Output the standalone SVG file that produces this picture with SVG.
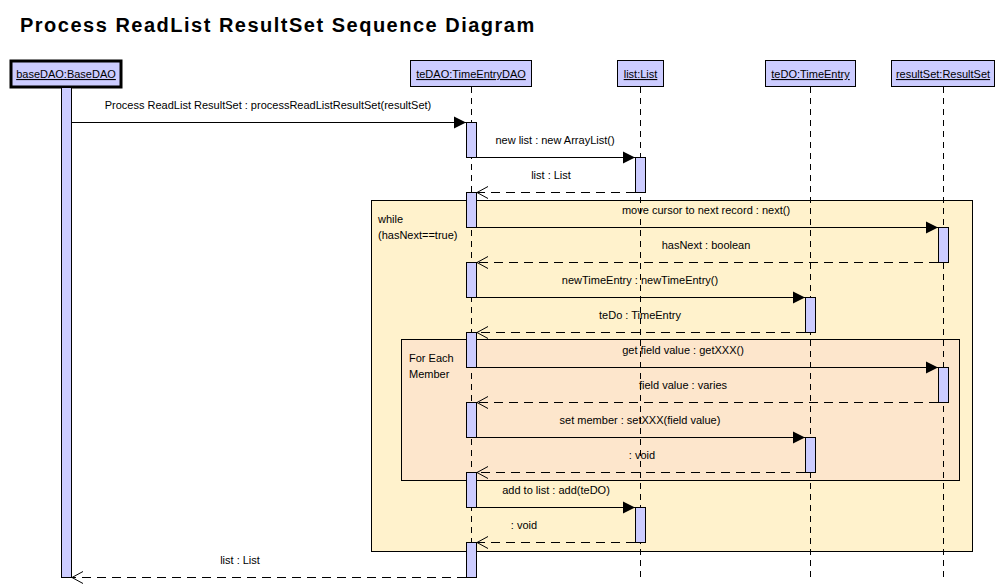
<svg xmlns="http://www.w3.org/2000/svg" width="1007" height="588" viewBox="0 0 1007 588">
<style>
text{font-family:"Liberation Sans",Arial,sans-serif;font-size:11px;fill:#000}
.title{font-size:20px;font-weight:bold;letter-spacing:1.5px}
.head{fill:#ccccff;stroke:#000;stroke-width:1}
.act{fill:#ccccff;stroke:#000;stroke-width:1}
.life{stroke:#000;stroke-width:1;stroke-dasharray:6,5;fill:none}
.msg{stroke:#000;stroke-width:1;fill:none}
.ret{stroke:#000;stroke-width:1;stroke-dasharray:9,6;fill:none}
.lbl{text-anchor:middle}
.u{text-decoration:underline;text-anchor:middle}
</style>
<defs>
<marker id="filled" markerUnits="userSpaceOnUse" markerWidth="13" markerHeight="13" refX="12" refY="6" orient="auto" overflow="visible">
<path d="M0,0 L12,6 L0,12 z" fill="#000"/>
</marker>
<marker id="open" markerUnits="userSpaceOnUse" markerWidth="13" markerHeight="13" refX="11" refY="6" orient="auto" overflow="visible">
<path d="M0,0 L11,6 L0,12" fill="none" stroke="#000" stroke-width="1"/>
</marker>
</defs>
<rect width="1007" height="588" fill="#fff"/>
<text class="title" x="20" y="32">Process ReadList ResultSet Sequence Diagram</text>

<g id="frame-while">
<rect x="371.5" y="200.5" width="601" height="351" fill="#fff2cc" stroke="#000"/>
<text x="378" y="223">while</text>
<text x="378" y="239">(hasNext==true)</text>
</g>
<g id="frame-foreach">
<rect x="401.5" y="339.5" width="558" height="141" fill="#fde6cc" stroke="#000"/>
<text x="409" y="362">For Each</text>
<text x="409" y="378">Member</text>
</g>

<g id="baseDAO">
<rect class="head" x="11" y="61" width="110" height="26" style="stroke-width:3"/>
<text class="u" x="66" y="78">baseDAO:BaseDAO</text>
<rect class="act" x="61.5" y="87.5" width="10" height="490"/>
</g>
<g id="teDAO">
<rect class="head" x="410.5" y="60.5" width="121" height="26"/>
<text class="u" x="471" y="78">teDAO:TimeEntryDAO</text>
<line class="life" x1="471.5" y1="87" x2="471.5" y2="577"/>
<rect class="act" x="466.5" y="122.5" width="10" height="35"/>
<rect class="act" x="466.5" y="192.5" width="10" height="35"/>
<rect class="act" x="466.5" y="262.5" width="10" height="35"/>
<rect class="act" x="466.5" y="332.5" width="10" height="35"/>
<rect class="act" x="466.5" y="402.5" width="10" height="35"/>
<rect class="act" x="466.5" y="472.5" width="10" height="35"/>
<rect class="act" x="466.5" y="542.5" width="10" height="35"/>
</g>
<g id="list">
<rect class="head" x="617.5" y="60.5" width="46" height="26"/>
<text class="u" x="640.5" y="78">list:List</text>
<line class="life" x1="640.5" y1="87" x2="640.5" y2="577"/>
<rect class="act" x="635.5" y="157.5" width="10" height="35"/>
<rect class="act" x="635.5" y="507.5" width="10" height="35"/>
</g>
<g id="teDO">
<rect class="head" x="765.5" y="60.5" width="90" height="26"/>
<text class="u" x="810.5" y="78">teDO:TimeEntry</text>
<line class="life" x1="810.5" y1="87" x2="810.5" y2="577"/>
<rect class="act" x="805.5" y="297.5" width="10" height="35"/>
<rect class="act" x="805.5" y="437.5" width="10" height="35"/>
</g>
<g id="resultSet">
<rect class="head" x="891.5" y="60.5" width="103" height="26"/>
<text class="u" x="943" y="78">resultSet:ResultSet</text>
<line class="life" x1="943.5" y1="87" x2="943.5" y2="577"/>
<rect class="act" x="938.5" y="227.5" width="10" height="35"/>
<rect class="act" x="938.5" y="367.5" width="10" height="35"/>
</g>

<g id="connectors">
<line class="msg" x1="72" y1="122.5" x2="466" y2="122.5" marker-end="url(#filled)"/>
<text class="lbl" x="268" y="109">Process ReadList ResultSet : processReadListResultSet(resultSet)</text>
<line class="msg" x1="477" y1="157.5" x2="635" y2="157.5" marker-end="url(#filled)"/>
<text class="lbl" x="555" y="144">new list : new ArrayList()</text>
<line class="ret" x1="635" y1="192.5" x2="477" y2="192.5" marker-end="url(#open)"/>
<text class="lbl" x="551" y="179">list : List</text>
<line class="msg" x1="477" y1="227.5" x2="938" y2="227.5" marker-end="url(#filled)"/>
<text class="lbl" x="706" y="214">move cursor to next record : next()</text>
<line class="ret" x1="938" y1="262.5" x2="477" y2="262.5" marker-end="url(#open)"/>
<text class="lbl" x="706" y="249">hasNext : boolean</text>
<line class="msg" x1="477" y1="297.5" x2="805" y2="297.5" marker-end="url(#filled)"/>
<text class="lbl" x="640" y="284">newTimeEntry : newTimeEntry()</text>
<line class="ret" x1="805" y1="332.5" x2="477" y2="332.5" marker-end="url(#open)"/>
<text class="lbl" x="640" y="319">teDo : TimeEntry</text>
<line class="msg" x1="477" y1="367.5" x2="938" y2="367.5" marker-end="url(#filled)"/>
<text class="lbl" x="683" y="354">get field value : getXXX()</text>
<line class="ret" x1="938" y1="402.5" x2="477" y2="402.5" marker-end="url(#open)"/>
<text class="lbl" x="683" y="389">field value : varies</text>
<line class="msg" x1="477" y1="437.5" x2="805" y2="437.5" marker-end="url(#filled)"/>
<text class="lbl" x="640" y="424">set member : setXXX(field value)</text>
<line class="ret" x1="805" y1="472.5" x2="477" y2="472.5" marker-end="url(#open)"/>
<text class="lbl" x="642" y="459">: void</text>
<line class="msg" x1="477" y1="507.5" x2="635" y2="507.5" marker-end="url(#filled)"/>
<text class="lbl" x="556" y="494">add to list : add(teDO)</text>
<line class="ret" x1="635" y1="542.5" x2="477" y2="542.5" marker-end="url(#open)"/>
<text class="lbl" x="524" y="529">: void</text>
<line class="ret" x1="466" y1="577.5" x2="72" y2="577.5" marker-end="url(#open)"/>
<text class="lbl" x="240" y="564">list : List</text>
</g>
</svg>
